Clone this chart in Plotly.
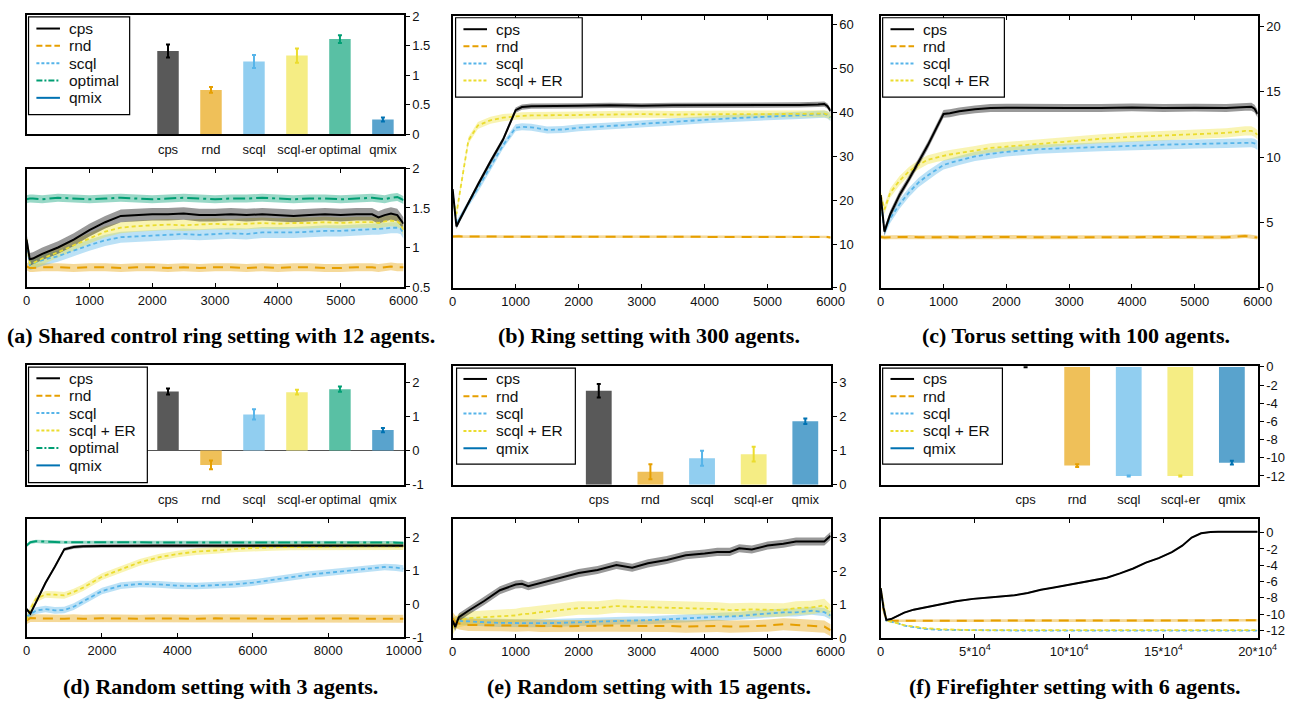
import plotly.graph_objects as go

W, H = 1313, 709

# ------------------------------------------------------------------ data
bar_cats_6 = ["cps", "rnd", "scql", "scql+er", "optimal", "qmix"]
bar_cats_5 = ["cps", "rnd", "scql", "scql+er", "qmix"]

a_bar_vals = [1.41, 0.75, 1.23, 1.33, 1.61, 0.25]
a_bar_err = [0.11, 0.05, 0.11, 0.12, 0.065, 0.035]
d_bar_vals = [1.73, -0.42, 1.06, 1.71, 1.80, 0.60]
d_bar_err = [0.09, 0.13, 0.15, 0.07, 0.08, 0.06]
e_bar_vals = [2.77, 0.38, 0.78, 0.90, 1.87]
e_bar_err = [0.20, 0.22, 0.22, 0.22, 0.08]
f_bar_vals = [0.0, -10.86, -12.0, -12.0, -10.54]
f_bar_err = [0.05, 0.15, 0.05, 0.05, 0.20]

# (a) shared control ring, 12 agents
a_x = [0, 50, 100, 250, 500, 750, 1000, 1250, 1500, 1750, 2000, 2250, 2500, 2750, 3000,
       3250, 3500, 3750, 4000, 4250, 4500, 4750, 5000, 5250, 5500, 5600, 5700, 5800, 5900, 5950, 6000]
a_cps = [1.10, 0.85, 0.86, 0.92, 1.00, 1.10, 1.22, 1.32, 1.40, 1.41, 1.42, 1.42, 1.43, 1.41, 1.41,
         1.42, 1.41, 1.42, 1.41, 1.40, 1.41, 1.42, 1.41, 1.42, 1.42, 1.38, 1.41, 1.43, 1.41, 1.36, 1.30]
a_scqler = [1.10, 0.80, 0.80, 0.86, 0.94, 1.03, 1.12, 1.20, 1.25, 1.27, 1.28, 1.29, 1.28, 1.29, 1.30,
            1.29, 1.30, 1.31, 1.30, 1.31, 1.31, 1.32, 1.31, 1.32, 1.32, 1.31, 1.33, 1.34, 1.33, 1.30, 1.22]
a_scql = [1.08, 0.78, 0.80, 0.84, 0.89, 0.96, 1.03, 1.09, 1.13, 1.14, 1.15, 1.16, 1.17, 1.16, 1.17,
          1.18, 1.17, 1.19, 1.19, 1.19, 1.20, 1.21, 1.21, 1.22, 1.23, 1.23, 1.24, 1.25, 1.25, 1.24, 1.18]
a_rnd = [0.76, 0.74, 0.74, 0.75, 0.75, 0.74, 0.75, 0.75, 0.74, 0.75, 0.75, 0.74, 0.75, 0.74, 0.75,
         0.75, 0.74, 0.75, 0.74, 0.75, 0.75, 0.74, 0.74, 0.75, 0.75, 0.74, 0.75, 0.76, 0.75, 0.75, 0.75]
a_optimal = [1.61, 1.62, 1.62, 1.61, 1.63, 1.62, 1.61, 1.62, 1.63, 1.62, 1.61, 1.62, 1.63, 1.62, 1.61,
             1.62, 1.62, 1.63, 1.62, 1.61, 1.62, 1.62, 1.61, 1.62, 1.63, 1.62, 1.61, 1.63, 1.64, 1.62, 1.60]
a_series = ["optimal", "rnd", "scql", "scqler", "cps"]
a_sd = [0.05, 0.05, 0.07, 0.07, 0.08]

# (b) ring, 300 agents
b_x = [0, 60, 100, 150, 250, 400, 600, 800, 1000, 1100, 1250, 1500, 1750, 2000, 2500, 3000,
       3500, 4000, 4500, 5000, 5500, 5800, 5900, 5950, 6000]
b_cps = [22.5, 14.0, 15.2, 16.6, 19.5, 23.5, 28.8, 33.8, 40.5, 41.2, 41.4, 41.4, 41.5, 41.5, 41.6,
         41.5, 41.6, 41.6, 41.7, 41.7, 41.7, 41.8, 41.9, 41.4, 40.3]
b_scqler = [20.2, 16.8, 20.5, 25.0, 33.6, 37.0, 38.2, 38.8, 39.1, 39.2, 39.3, 39.3, 39.3, 39.4, 39.5,
            39.6, 39.5, 39.6, 39.6, 39.6, 39.6, 39.7, 39.7, 39.5, 39.0]
b_scql = [22.0, 14.5, 15.5, 16.7, 19.3, 22.6, 27.5, 32.5, 36.5, 36.7, 36.6, 36.0, 36.1, 36.5, 36.9,
          37.4, 37.8, 38.3, 38.7, 39.0, 39.3, 39.5, 39.6, 39.4, 38.8]
b_rnd = [11.7, 11.8, 11.8, 11.7, 11.7, 11.7, 11.7, 11.6, 11.7, 11.6, 11.7, 11.6, 11.7, 11.7, 11.6,
         11.7, 11.6, 11.7, 11.7, 11.6, 11.7, 11.7, 11.7, 11.6, 11.5]
b_series = ["rnd", "scql", "scqler", "cps"]
b_sd = [0.3, 0.8, 0.8, 0.6]

# (c) torus, 100 agents
c_x = [0, 60, 150, 300, 450, 600, 750, 900, 1000, 1100, 1250, 1500, 1750, 2000, 2500, 3000,
       3500, 4000, 4500, 5000, 5500, 5800, 5900, 5950, 6000]
c_cps = [7.1, 4.3, 5.6, 7.1, 8.3, 9.6, 10.9, 12.35, 13.3, 13.35, 13.5, 13.65, 13.75, 13.78, 13.75,
         13.75, 13.75, 13.8, 13.75, 13.78, 13.75, 13.85, 13.85, 13.7, 13.3]
c_scqler = [7.1, 6.0, 7.25, 8.2, 8.9, 9.4, 9.8, 10.0, 10.1, 10.2, 10.3, 10.5, 10.7, 10.8, 11.0,
            11.25, 11.4, 11.55, 11.65, 11.75, 11.85, 12.0, 12.0, 11.9, 11.7]
c_scql = [6.85, 4.3, 5.3, 6.4, 7.3, 8.05, 8.6, 9.1, 9.4, 9.55, 9.75, 10.05, 10.25, 10.4, 10.6,
          10.7, 10.8, 10.9, 10.95, 11.0, 11.05, 11.1, 11.1, 11.05, 10.9]
c_rnd = [3.9, 3.85, 3.88, 3.9, 3.9, 3.88, 3.9, 3.88, 3.87, 3.9, 3.88, 3.9, 3.88, 3.9, 3.88,
         3.87, 3.9, 3.88, 3.9, 3.88, 3.87, 3.97, 3.92, 3.88, 3.85]
c_series = ["rnd", "scql", "scqler", "cps"]
c_sd = [0.15, 0.35, 0.35, 0.3]

# (d) random, 3 agents
d_x = [0, 100, 250, 500, 750, 1000, 1250, 1500, 2000, 2500, 3000, 3500, 4000, 4500, 5000,
       5500, 6000, 6500, 7000, 7500, 8000, 8500, 9000, 9500, 9800, 10000]
d_cps = [-0.15, -0.29, 0.05, 0.63, 1.12, 1.64, 1.71, 1.73, 1.74, 1.75, 1.75, 1.75, 1.75, 1.76, 1.75,
         1.75, 1.75, 1.75, 1.75, 1.75, 1.75, 1.75, 1.75, 1.75, 1.75, 1.75]
d_scqler = [-0.49, -0.15, 0.15, 0.29, 0.28, 0.26, 0.36, 0.49, 0.82, 1.04, 1.25, 1.40, 1.50, 1.57, 1.61,
            1.65, 1.68, 1.70, 1.71, 1.72, 1.72, 1.73, 1.73, 1.73, 1.72, 1.72]
d_scql = [-0.39, -0.30, -0.20, -0.15, -0.19, -0.18, -0.08, 0.08, 0.39, 0.55, 0.60, 0.59, 0.55, 0.54, 0.56,
          0.59, 0.64, 0.73, 0.80, 0.88, 0.94, 0.99, 1.06, 1.11, 1.09, 1.06]
d_rnd = [-0.49, -0.42, -0.43, -0.44, -0.43, -0.44, -0.43, -0.44, -0.43, -0.44, -0.44, -0.43, -0.44,
         -0.44, -0.43, -0.44, -0.43, -0.44, -0.44, -0.43, -0.44, -0.43, -0.44, -0.43, -0.44, -0.44]
d_optimal = [1.75, 1.85, 1.88, 1.86, 1.86, 1.85, 1.85, 1.86, 1.85, 1.85, 1.86, 1.85, 1.85, 1.85, 1.84,
             1.85, 1.85, 1.85, 1.85, 1.85, 1.84, 1.85, 1.84, 1.84, 1.84, 1.83]
d_series = ["rnd", "scql", "scqler", "cps", "optimal"]
d_sd = [0.12, 0.1, 0.1, 0.05, 0.05]
d_tickvals = [0, 2000, 4000, 6000, 8000, 10000]

# (e) random, 15 agents
e_x = [0, 40, 100, 250, 500, 750, 1000, 1100, 1200, 1400, 1700, 2000, 2300, 2600, 2850, 3100,
       3400, 3700, 4000, 4200, 4400, 4550, 4750, 5000, 5250, 5450, 5700, 5900, 6000]
e_cps = [0.53, 0.34, 0.63, 0.82, 1.11, 1.43, 1.60, 1.62, 1.55, 1.65, 1.79, 1.94, 2.03, 2.18, 2.10, 2.23,
         2.33, 2.47, 2.52, 2.57, 2.57, 2.68, 2.64, 2.76, 2.81, 2.88, 2.88, 2.88, 3.05]
e_scqler = [0.30, 0.45, 0.53, 0.60, 0.63, 0.66, 0.68, 0.72, 0.73, 0.78, 0.84, 0.90, 0.90, 0.96, 0.94, 0.93,
            0.92, 0.91, 0.90, 0.87, 0.84, 0.85, 0.86, 0.85, 0.84, 0.90, 0.92, 0.98, 0.80]
e_scql = [0.55, 0.50, 0.52, 0.50, 0.48, 0.46, 0.45, 0.45, 0.45, 0.45, 0.46, 0.48, 0.50, 0.53, 0.53, 0.54,
          0.56, 0.58, 0.62, 0.64, 0.65, 0.66, 0.70, 0.73, 0.77, 0.77, 0.82, 0.78, 0.68]
e_rnd = [0.60, 0.50, 0.44, 0.40, 0.39, 0.39, 0.38, 0.38, 0.39, 0.37, 0.36, 0.37, 0.38, 0.38, 0.37, 0.38,
         0.37, 0.35, 0.36, 0.37, 0.35, 0.35, 0.36, 0.38, 0.42, 0.40, 0.37, 0.35, 0.24]
e_series = ["scql", "scqler", "rnd", "cps"]
e_sd = [0.12, 0.2, 0.18, 0.12]

# (f) firefighter, 6 agents
f_x = [0, 1500, 3000, 5500, 9000, 12500, 17500, 23000, 31500, 40000, 49000, 61000, 71000, 78000, 85000,
       92000, 99000, 109500, 120000, 127000, 134000, 140700, 147500, 154500, 160000, 165000, 170000,
       175000, 179000, 200000]
f_cps = [-6.8, -9.2, -10.7, -10.6, -10.2, -9.8, -9.44, -9.2, -8.8, -8.4, -8.12, -7.92, -7.68, -7.4, -7.0,
         -6.72, -6.4, -6.0, -5.52, -5.0, -4.4, -3.68, -3.12, -2.4, -1.6, -0.6, -0.08, 0.08, 0.1, 0.1]
f_rnd = [-7.0, -9.5, -10.8, -10.8, -10.8, -10.8, -10.8, -10.8, -10.8, -10.8, -10.8, -10.8, -10.8, -10.8,
         -10.8, -10.8, -10.8, -10.8, -10.8, -10.8, -10.8, -10.8, -10.8, -10.8, -10.8, -10.8, -10.8,
         -10.8, -10.8, -10.75]
f_scql = [-7.0, -9.3, -10.8, -10.9, -11.1, -11.4, -11.6, -11.8, -11.92, -11.95, -12.0, -12.0, -12.0,
          -12.0, -12.0, -12.0, -12.0, -12.0, -12.0, -12.0, -12.0, -12.0, -12.0, -12.0, -12.0, -12.0,
          -12.0, -12.0, -12.0, -12.0]
f_scqler = [-6.8, -9.0, -10.8, -10.9, -11.15, -11.35, -11.5, -11.7, -11.84, -11.92, -11.95, -11.95,
            -11.95, -11.95, -11.95, -11.95, -11.95, -11.95, -11.95, -11.95, -11.95, -11.95, -11.95,
            -11.95, -11.95, -11.95, -11.95, -11.95, -11.95, -11.95]
f_series = ["rnd", "scql", "scqler", "cps"]
f_sd = [0.15, 0.05, 0.05, 0.1]

f_tickvals = [0, 50000, 100000, 150000, 200000]
f_ticktext = ["0", "5*10<sup>4</sup>", "10*10<sup>4</sup>", "15*10<sup>4</sup>", "20*10<sup>4</sup>"]

captions = [
    "(a) Shared control ring setting with 12 agents.",
    "(b) Ring setting with 300 agents.",
    "(c) Torus setting with 100 agents.",
    "(d) Random setting with 3 agents.",
    "(e) Random setting with 15 agents.",
    "(f) Firefighter setting with 6 agents.",
]

# ------------------------------------------------------------------ styles
STYLE = {
    "cps": dict(color="#000000", bar="#595959", band="rgba(0,0,0,0.40)", dash="solid", width=2.0,
                ldash="solid", label="cps"),
    "rnd": dict(color="#E69F00", bar="#EFC059", band="rgba(230,159,0,0.40)", dash="10px,7px", width=2.0,
                ldash="6px,3px", label="rnd"),
    "scql": dict(color="#56B4E9", bar="#91CEF0", band="rgba(86,180,233,0.40)", dash="4px,3px", width=1.8,
                 ldash="3px,2px", label="scql"),
    "scqler": dict(color="#EBDC2E", bar="#F5ED84", band="rgba(240,228,66,0.40)", dash="4px,3px", width=1.8,
                   ldash="3px,2px", label="scql + ER"),
    "optimal": dict(color="#009E73", bar="#59C0A4", band="rgba(0,158,115,0.40)", dash="12px,4px,3px,4px",
                    width=2.0, ldash="6px,2px,2px,2px", label="optimal"),
    "qmix": dict(color="#0072B2", bar="#59A3CD", band="rgba(0,114,178,0.40)", dash="solid", width=2.0,
                 ldash="solid", label="qmix"),
}
CAT_KEY = {"cps": "cps", "rnd": "rnd", "scql": "scql", "scql+er": "scqler", "optimal": "optimal", "qmix": "qmix"}

TICK_FONT = dict(family="Liberation Sans, Arial, sans-serif", size=13, color="#111111")
LEG_FONT = dict(family="Liberation Sans, Arial, sans-serif", size=15.5, color="#111111")
CAP_FONT = dict(family="Liberation Serif, Times New Roman, serif", size=22, color="#000000")

fig = go.Figure()


def names(i):
    s = "" if i == 1 else str(i)
    return "x" + s, "y" + s, "xaxis" + s, "yaxis" + s


def dom(box):
    x0, y0, x1, y1 = box
    return [x0 / W, x1 / W], [1 - y1 / H, 1 - y0 / H]


def add_line_panel(i, xs, series_data, series_keys, sds):
    xr, yr, _, _ = names(i)
    for key, sd in zip(series_keys, sds):
        ys = series_data[key]
        up = [v + sd for v in ys]
        lo = [v - sd for v in ys]
        fig.add_trace(go.Scatter(x=xs + xs[::-1], y=up + lo[::-1], fill="toself",
                                 fillcolor=STYLE[key]["band"], line=dict(width=0), mode="lines",
                                 hoverinfo="skip", showlegend=False, xaxis=xr, yaxis=yr))
    for key in series_keys:
        st = STYLE[key]
        fig.add_trace(go.Scatter(x=xs, y=series_data[key], mode="lines",
                                 line=dict(color=st["color"], width=st["width"], dash=st["dash"]),
                                 showlegend=False, xaxis=xr, yaxis=yr))


def add_bar_panel(i, cats, vals, errs):
    xr, yr, _, _ = names(i)
    for c, v, e in zip(cats, vals, errs):
        st = STYLE[CAT_KEY[c]]
        fig.add_trace(go.Bar(x=[c], y=[v], width=0.5, marker=dict(color=st["bar"], line=dict(width=0)),
                             error_y=dict(type="data", array=[e], color=st["color"], thickness=2, width=2),
                             showlegend=False, xaxis=xr, yaxis=yr))


def x_line_axis(i, box, rng, tickvals, ticktext=None):
    d, _ = dom(box)
    _, yr, _, _ = names(i)
    ax = dict(domain=d, anchor=yr, range=rng, showline=True, linecolor="black", linewidth=2,
              mirror="allticks", ticks="inside", ticklen=4, tickcolor="black", showgrid=False,
              zeroline=False, tickvals=tickvals, tickangle=0, tickfont=TICK_FONT,
              ticktext=ticktext if ticktext else [str(v) for v in tickvals])
    return ax


def cat_label(c):
    # the "+" in the category names is printed small in the reference
    return c.replace("+", '<span style="font-size:8px">+</span>')


def x_cat_axis(i, box, rng, cats):
    d, _ = dom(box)
    _, yr, _, _ = names(i)
    return dict(domain=d, anchor=yr, type="category", categoryorder="array", categoryarray=cats, range=rng,
                showline=True, linecolor="black", linewidth=2, mirror=True, ticks="", showgrid=False,
                zeroline=False, tickangle=0, ticklabelstandoff=2, tickfont=TICK_FONT,
                tickvals=cats, ticktext=[cat_label(c) for c in cats])


def y_axis(i, box, rng, tickvals, zeroline=False):
    _, d = dom(box)
    xr, _, _, _ = names(i)
    return dict(domain=d, anchor=xr, side="right", range=rng, showline=True, linecolor="black",
                linewidth=2, mirror=True, ticks="outside", ticklen=4, tickcolor="black", showgrid=False,
                zeroline=zeroline, zerolinecolor="#555555", zerolinewidth=1,
                tickvals=tickvals, ticktext=[("%g" % v) for v in tickvals], tickfont=TICK_FONT)


# panel boxes (pixels: x0, y0, x1, y1)
BOX = {
    1: (23, 8, 407, 130), 2: (23, 165, 407, 286),
    3: (457, 9, 842, 287), 4: (893, 9, 1277, 287),
    5: (23, 366, 407, 488), 6: (23, 523, 407, 644),
    7: (457, 367, 842, 488), 8: (457, 523, 842, 645),
    9: (893, 367, 1277, 488), 10: (893, 523, 1277, 645),
}

# traces
add_bar_panel(1, bar_cats_6, a_bar_vals, a_bar_err)
add_line_panel(2, a_x, {"cps": a_cps, "rnd": a_rnd, "scql": a_scql, "scqler": a_scqler,
                        "optimal": a_optimal}, a_series, a_sd)
add_line_panel(3, b_x, {"cps": b_cps, "rnd": b_rnd, "scql": b_scql, "scqler": b_scqler}, b_series, b_sd)
add_line_panel(4, c_x, {"cps": c_cps, "rnd": c_rnd, "scql": c_scql, "scqler": c_scqler}, c_series, c_sd)
add_bar_panel(5, bar_cats_6, d_bar_vals, d_bar_err)
add_line_panel(6, d_x, {"cps": d_cps, "rnd": d_rnd, "scql": d_scql, "scqler": d_scqler,
                        "optimal": d_optimal}, d_series, d_sd)
add_bar_panel(7, bar_cats_5, e_bar_vals, e_bar_err)
add_line_panel(8, e_x, {"cps": e_cps, "rnd": e_rnd, "scql": e_scql, "scqler": e_scqler}, e_series, e_sd)
add_bar_panel(9, bar_cats_5, f_bar_vals, f_bar_err)
add_line_panel(10, f_x, {"cps": f_cps, "rnd": f_rnd, "scql": f_scql, "scqler": f_scqler}, f_series, f_sd)

lay = {}
six = [0, 1000, 2000, 3000, 4000, 5000, 6000]
lay["xaxis"] = x_cat_axis(1, BOX[1], [-3.29, 5.48], bar_cats_6)
lay["yaxis"] = y_axis(1, BOX[1], [0, 2.02], [0, 0.5, 1, 1.5, 2])
lay["xaxis2"] = x_line_axis(2, BOX[2], [0, 6000], six)
lay["yaxis2"] = y_axis(2, BOX[2], [0.5, 2.0], [0.5, 1, 1.5, 2])
lay["xaxis3"] = x_line_axis(3, BOX[3], [0, 6000], six)
lay["yaxis3"] = y_axis(3, BOX[3], [0, 62], [0, 10, 20, 30, 40, 50, 60])
lay["xaxis4"] = x_line_axis(4, BOX[4], [0, 6000], six)
lay["yaxis4"] = y_axis(4, BOX[4], [0, 20.8], [0, 5, 10, 15, 20])
lay["xaxis5"] = x_cat_axis(5, BOX[5], [-3.29, 5.48], bar_cats_6)
lay["yaxis5"] = y_axis(5, BOX[5], [-1, 2.5], [-1, 0, 1, 2], zeroline=True)
lay["xaxis6"] = x_line_axis(6, BOX[6], [0, 10000], d_tickvals)
lay["yaxis6"] = y_axis(6, BOX[6], [-1, 2.55], [-1, 0, 1, 2])
lay["xaxis7"] = x_cat_axis(7, BOX[7], [-2.83, 4.49], bar_cats_5)
lay["yaxis7"] = y_axis(7, BOX[7], [0, 3.49], [0, 1, 2, 3])
lay["xaxis8"] = x_line_axis(8, BOX[8], [0, 6000], six)
lay["yaxis8"] = y_axis(8, BOX[8], [0, 3.55], [0, 1, 2, 3])
lay["xaxis9"] = x_cat_axis(9, BOX[9], [-2.81, 4.5], bar_cats_5)
lay["yaxis9"] = y_axis(9, BOX[9], [-12.96, 0.07], [0, -2, -4, -6, -8, -10, -12])
lay["xaxis10"] = x_line_axis(10, BOX[10], [0, 200000], f_tickvals, f_ticktext)
lay["yaxis10"] = y_axis(10, BOX[10], [-12.96, 1.68], [0, -2, -4, -6, -8, -10, -12])

shapes = []
annotations = []


def add_legend(box, keys, line_x, text_x, row0, dy):
    x0, y0, x1, y1 = box
    shapes.append(dict(type="rect", xref="paper", yref="paper", x0=x0 / W, x1=x1 / W,
                       y0=1 - y1 / H, y1=1 - y0 / H, line=dict(color="black", width=1.2),
                       fillcolor="white", layer="above"))
    for k, key in enumerate(keys):
        st = STYLE[key]
        yc = row0 + k * dy
        shapes.append(dict(type="line", xref="paper", yref="paper", x0=line_x[0] / W, x1=line_x[1] / W,
                           y0=1 - yc / H, y1=1 - yc / H, layer="above",
                           line=dict(color=st["color"], width=2, dash=st["ldash"])))
        annotations.append(dict(x=text_x / W, y=1 - yc / H, xref="paper", yref="paper", text=st["label"],
                                showarrow=False, xanchor="left", yanchor="middle", font=LEG_FONT))


add_legend((25, 10, 128, 110), ["cps", "rnd", "scql", "optimal", "qmix"], (33, 57), 64, 22, 17.7)
add_legend((460, 11, 589, 92), ["cps", "rnd", "scql", "scqler"], (468, 492), 499, 22.7, 17.5)
add_legend((895, 11, 1019, 92), ["cps", "rnd", "scql", "scqler"], (903, 927), 934, 22.7, 17.5)
add_legend((25, 368, 146, 486), ["cps", "rnd", "scql", "scqler", "optimal", "qmix"], (33, 57), 64, 379.3, 17.8)
add_legend((461, 369, 582, 467), ["cps", "rnd", "scql", "scqler", "qmix"], (468, 492), 499, 380, 17.7)
add_legend((895, 369, 1017, 467), ["cps", "rnd", "scql", "scqler", "qmix"], (903, 927), 934, 380, 17.7)

cap_pos = [(221, 336), (657, 336), (1092, 336), (221, 694), (657, 694), (1091, 694)]
for txt, (cx, cy) in zip(captions, cap_pos):
    annotations.append(dict(x=cx / W, y=1 - cy / H, xref="paper", yref="paper", text="<b>" + txt + "</b>",
                            showarrow=False, xanchor="center", yanchor="middle", font=CAP_FONT))

fig.update_layout(
    width=W, height=H, margin=dict(l=0, r=0, t=0, b=0),
    paper_bgcolor="white", plot_bgcolor="white",
    barmode="overlay", showlegend=False,
    shapes=shapes, annotations=annotations,
    **lay,
)

fig.write_html("out.html", config={"displayModeBar": False},
               post_script="document.body.style.margin='0px';document.body.style.overflow='hidden';")
